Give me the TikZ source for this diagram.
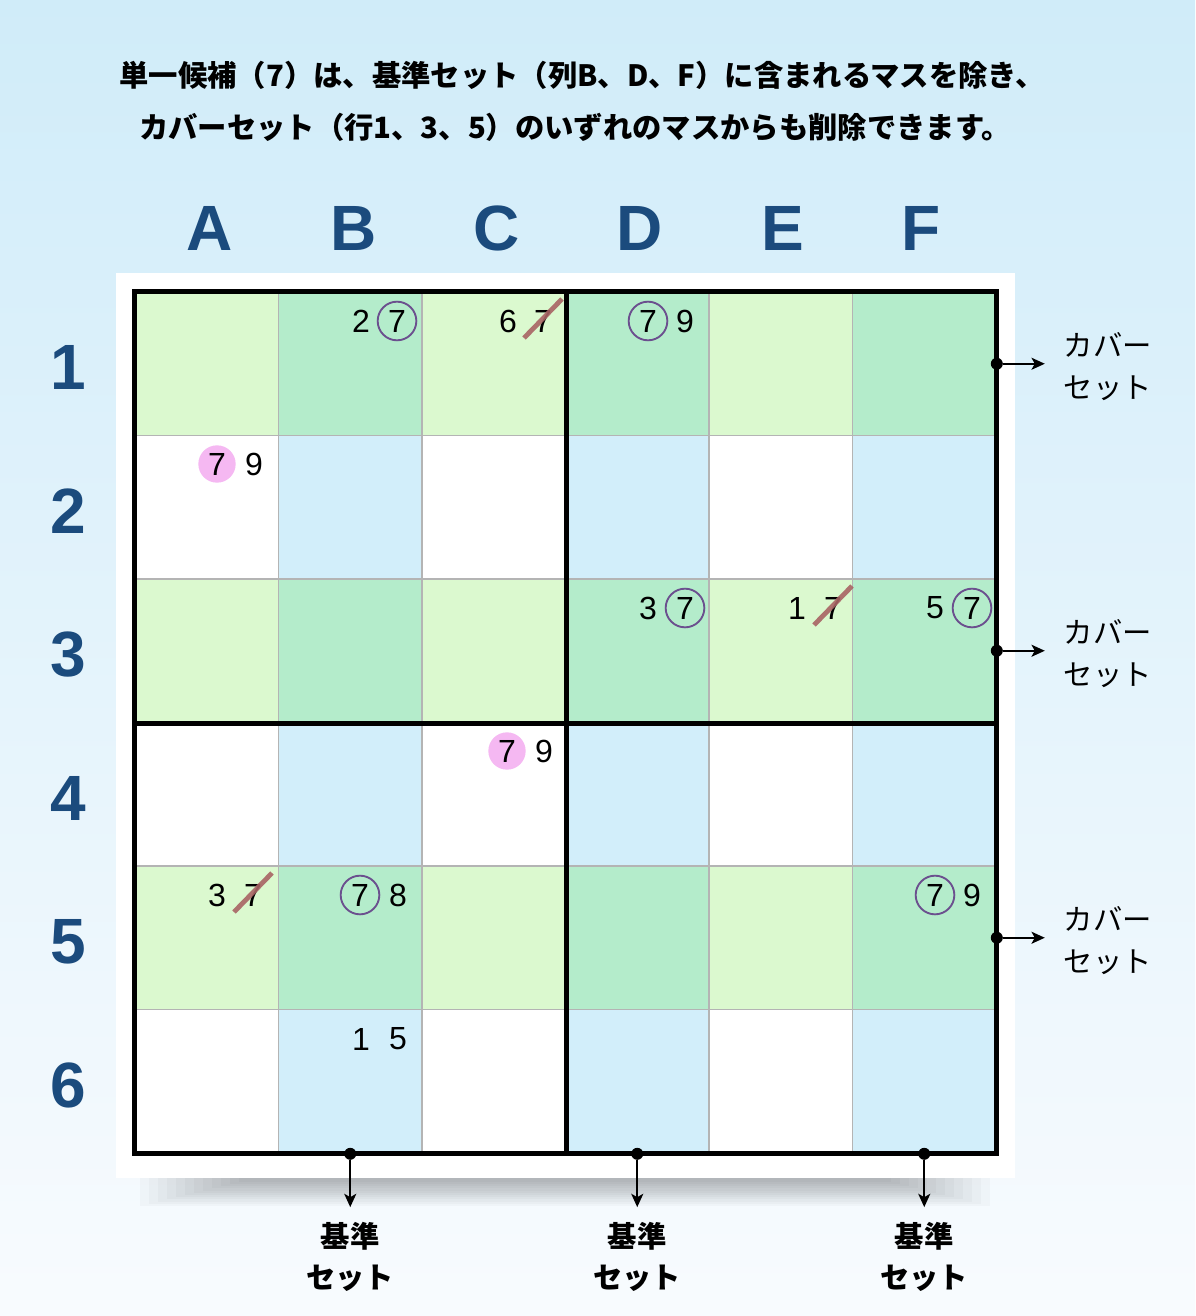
\documentclass[tikz,border=0pt]{standalone}
\usepackage{fontspec}
\setmainfont{Liberation Sans}
\newfontfamily\jpfont{Noto Sans CJK JP}
\usetikzlibrary{arrows.meta}
\definecolor{bgtop}{HTML}{D0ECF9}
\definecolor{bgmid}{HTML}{E2F3FC}
\definecolor{bgbot}{HTML}{F8FBFE}
\definecolor{lgreen}{HTML}{DBF9CF}
\definecolor{mgreen}{HTML}{B4ECCB}
\definecolor{lblue}{HTML}{D2EEFA}
\definecolor{hdrblue}{HTML}{1B4B7D}
\definecolor{circpurple}{HTML}{6B4F8E}
\definecolor{pinkfill}{HTML}{F5B8F2}
\definecolor{slashred}{HTML}{A86464}
\definecolor{gridgray}{HTML}{B4B4B4}
\tikzset{
  cellbox/.style={rectangle, draw=gridgray, line width=1.2pt, minimum size=107.625pt, inner sep=0pt},
  boldline/.style={line width=3.6pt, black},
  hdr/.style={font=\fontsize{48}{48}\selectfont\bfseries, text=hdrblue, inner sep=0pt},
  cand/.style={font=\fontsize{24}{24}\selectfont, inner sep=0pt, text=black},
  circseven/.style={cand, circle, draw=circpurple, line width=1.4pt, minimum size=29pt},
  pinkseven/.style={cand, circle, fill=pinkfill, minimum size=28pt},
  slash/.style={slashred, line width=3.6pt, opacity=0.9},
  dotnode/.style={circle, fill=black, inner sep=0pt, minimum size=9pt},
  arr/.style={line width=1.5pt, -{Stealth[length=10pt,width=9pt,inset=2.5pt]}},
  covlab/.style={font=\jpfont\fontsize{22}{31.5}\selectfont, align=left, anchor=west, inner sep=0pt},
  baselab/.style={font=\jpfont\bfseries\fontsize{22}{30.75}\selectfont, align=center, inner sep=0pt},
  title/.style={font=\jpfont\bfseries\fontsize{22}{22}\selectfont, inner sep=0pt},
  shadowstep/.style={fill=black, opacity=0.022}
}
\begin{document}
\begin{tikzpicture}[x=0.75pt,y=-0.75pt]
\useasboundingbox (0,0) rectangle (1195,1316);
\fill[top color=bgtop, middle color=bgmid, bottom color=bgbot] (0,0) rectangle (1195,1316);

% title
\node[title] (t1) at (582,75) {単一候補（7）は、基準セット（列B、D、F）に含まれるマスを除き、};
\node[title] (t2) at (575,127) {カバーセット（行1、3、5）のいずれのマスからも削除できます。};

% soft shadow under the white panel
\foreach \i in {0,...,11}{
  \fill[shadowstep] ({140+\i*9},1170) rectangle ({990-\i*9},{1206-2.2*\i});
}
% white panel
\fill[white] (116,273) rectangle (1015,1178);

% cells
\foreach \r in {1,...,6}{
  \foreach \c in {1,...,6}{
    \pgfmathtruncatemacro\ro{mod(\r,2)}
    \pgfmathtruncatemacro\co{mod(\c,2)}
    \ifnum\ro=1
      \ifnum\co=0 \def\cc{mgreen}\else\def\cc{lgreen}\fi
    \else
      \ifnum\co=0 \def\cc{lblue}\else\def\cc{white}\fi
    \fi
    \node[cellbox, fill=\cc] (cell-\r-\c) at ({135+(\c-0.5)*143.5},{292+(\r-0.5)*143.5}) {};
  }
}
% bold lines
\draw[boldline] (cell-1-3.north east) -- (cell-6-3.south east);
\draw[boldline] (cell-3-1.south west) -- (cell-3-6.south east);
\draw[boldline, line width=4pt] (cell-1-1.north west) rectangle (cell-6-6.south east);

% headers
\foreach \l/\x in {A/210,B/354,C/497,D/640,E/783,F/921}{
  \node[hdr] (col-\l) at (\x,228) {\l};
}
\foreach \r in {1,...,6}{
  \node[hdr] (row-\r) at (68,{292+(\r-0.5)*143.5+4}) {\r};
}

% candidates
\node[cand] (b1a) at (361,321) {2};
\node[circseven] (b1b) at (397,321) {7};
\node[cand] (c1a) at (508,321) {6};
\node[cand] (c1b) at (543,321) {7};
\node[circseven] (d1a) at (648,321) {7};
\node[cand] (d1b) at (685,321) {9};
\node[pinkseven] (a2a) at (217,464) {7};
\node[cand] (a2b) at (254,464) {9};
\node[cand] (d3a) at (648,608) {3};
\node[circseven] (d3b) at (685,608) {7};
\node[cand] (e3a) at (797,608) {1};
\node[cand] (e3b) at (833,608) {7};
\node[cand] (f3a) at (935,608) {5};
\node[circseven] (f3b) at (972,608) {7};
\node[pinkseven] (c4a) at (507,751) {7};
\node[cand] (c4b) at (544,751) {9};
\node[cand] (a5a) at (217,895) {3};
\node[cand] (a5b) at (253,895) {7};
\node[circseven] (b5a) at (360,895) {7};
\node[cand] (b5b) at (398,895) {8};
\node[circseven] (f5a) at (935,895) {7};
\node[cand] (f5b) at (972,895) {9};
\node[cand] (b6a) at (361,1039) {1};
\node[cand] (b6b) at (398,1039) {5};

% eliminations
\foreach \n in {c1b,e3b,a5b}{
  \draw[slash] ([shift={(-19,17)}]\n.center) -- ([shift={(19,-22)}]\n.center);
}

% cover set arrows
\foreach \r in {1,3,5}{
  \node[dotnode] (cdot-\r) at (cell-\r-6.east) {};
  \coordinate (cend-\r) at ([xshift=36pt]cell-\r-6.east);
  \draw[arr] (cdot-\r) -- (cend-\r);
  \node[covlab] (cov-\r) at ([xshift=50pt, yshift=-2pt]cell-\r-6.east) {カバー\\セット};
}
% base set arrows
\foreach \c in {2,4,6}{
  \node[dotnode] (bdot-\c) at (cell-6-\c.south) {};
  \coordinate (bend-\c) at ([yshift=-40pt]cell-6-\c.south);
  \draw[arr] (bdot-\c) -- (bend-\c);
  \node[baselab] (base-\c) at ([yshift=-77pt]cell-6-\c.south) {基準\\セット};
}
\end{tikzpicture}
\end{document}
